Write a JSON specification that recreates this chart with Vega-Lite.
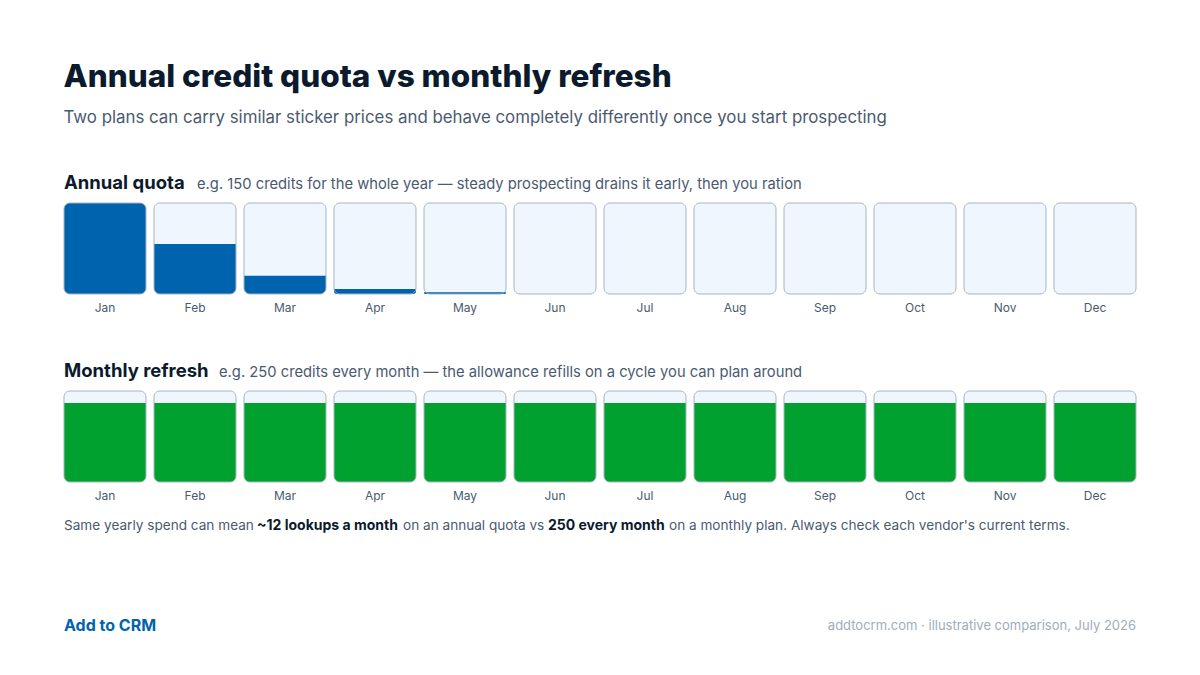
{
  "$schema": "https://vega.github.io/schema/vega-lite/v6.json",
  "background": "white",
  "padding": {"left": 63, "top": 61, "right": 65, "bottom": 20},
  "autosize": {"type": "pad"},
  "title": {
    "text": "Annual credit quota vs monthly refresh",
    "subtitle": "Two plans can carry similar sticker prices and behave completely differently once you start prospecting",
    "anchor": "start",
    "font": "Inter",
    "fontSize": 31.5,
    "fontWeight": 800,
    "color": "#0b1a2c",
    "subtitleFont": "Inter",
    "subtitleFontSize": 16.85,
    "subtitleColor": "#4a5a70",
    "subtitlePadding": 17,
    "offset": 47
  },
  "config": {
    "font": "Inter",
    "view": {"stroke": null},
    "axisX": {"domain": false, "ticks": false, "labelPadding": 8, "labelFontSize": 12, "labelColor": "#4a5a70", "labelFont": "Inter", "labelAngle": 0, "grid": false}
  },
  "datasets": {
    "annual": [
      {"month": "Jan", "level": 1.0},
      {"month": "Feb", "level": 0.55},
      {"month": "Mar", "level": 0.2},
      {"month": "Apr", "level": 0.054},
      {"month": "May", "level": 0.02},
      {"month": "Jun", "level": 0},
      {"month": "Jul", "level": 0},
      {"month": "Aug", "level": 0},
      {"month": "Sep", "level": 0},
      {"month": "Oct", "level": 0},
      {"month": "Nov", "level": 0},
      {"month": "Dec", "level": 0}
    ],
    "monthly": [
      {"month": "Jan", "level": 0.868},
      {"month": "Feb", "level": 0.868},
      {"month": "Mar", "level": 0.868},
      {"month": "Apr", "level": 0.868},
      {"month": "May", "level": 0.868},
      {"month": "Jun", "level": 0.868},
      {"month": "Jul", "level": 0.868},
      {"month": "Aug", "level": 0.868},
      {"month": "Sep", "level": 0.868},
      {"month": "Oct", "level": 0.868},
      {"month": "Nov", "level": 0.868},
      {"month": "Dec", "level": 0.868}
    ]
  },
  "spacing": 49,
  "vconcat": [
    {
      "width": 1072,
      "height": 91,
      "data": {"name": "annual"},
      "layer": [
        {
          "mark": {"type": "bar", "fill": "#eff6fd", "cornerRadius": 6},
          "encoding": {
            "x": {"field": "month", "type": "ordinal", "sort": null, "title": null, "scale": {"paddingInner": 0.0889, "paddingOuter": 0}},
            "y": {"datum": 1, "type": "quantitative", "scale": {"domain": [0, 1]}, "axis": null},
            "y2": {"datum": 0}
          }
        },
        {
          "transform": [{"filter": "datum.level > 0 && datum.level < 1"}],
          "mark": {"type": "bar", "fill": "#0063ad", "cornerRadiusBottomLeft": 6, "cornerRadiusBottomRight": 6},
          "encoding": {
            "x": {"field": "month", "type": "ordinal", "sort": null, "title": null},
            "y": {"field": "level", "type": "quantitative"},
            "y2": {"datum": 0}
          }
        },
        {
          "transform": [{"filter": "datum.level >= 1"}],
          "mark": {"type": "bar", "fill": "#0063ad", "cornerRadius": 6},
          "encoding": {
            "x": {"field": "month", "type": "ordinal", "sort": null, "title": null},
            "y": {"field": "level", "type": "quantitative"},
            "y2": {"datum": 0}
          }
        },
        {
          "mark": {"type": "bar", "fill": "transparent", "stroke": "#a6b3c1", "strokeWidth": 1, "cornerRadius": 6},
          "encoding": {
            "x": {"field": "month", "type": "ordinal", "sort": null, "title": null},
            "y": {"datum": 1, "type": "quantitative"},
            "y2": {"datum": 0}
          }
        },
        {
          "data": {"values": [{"t": "Annual quota"}]},
          "mark": {"type": "text", "align": "left", "baseline": "alphabetic", "fontSize": 18.5, "fontWeight": 700, "color": "#0b1a2c", "x": 0, "y": -14},
          "encoding": {"text": {"field": "t"}}
        },
        {
          "data": {"values": [{"t": "e.g. 150 credits for the whole year — steady prospecting drains it early, then you ration"}]},
          "mark": {"type": "text", "align": "left", "baseline": "alphabetic", "fontSize": 14.75, "color": "#4a5a70", "x": 133, "y": -14},
          "encoding": {"text": {"field": "t"}}
        }
      ]
    },
    {
      "width": 1072,
      "height": 91,
      "data": {"name": "monthly"},
      "layer": [
        {
          "mark": {"type": "bar", "fill": "#eff6fd", "cornerRadius": 6},
          "encoding": {
            "x": {"field": "month", "type": "ordinal", "sort": null, "title": null, "scale": {"paddingInner": 0.0889, "paddingOuter": 0}},
            "y": {"datum": 1, "type": "quantitative", "scale": {"domain": [0, 1]}, "axis": null},
            "y2": {"datum": 0}
          }
        },
        {
          "transform": [{"filter": "datum.level > 0 && datum.level < 1"}],
          "mark": {"type": "bar", "fill": "#00a12e", "cornerRadiusBottomLeft": 6, "cornerRadiusBottomRight": 6},
          "encoding": {
            "x": {"field": "month", "type": "ordinal", "sort": null, "title": null},
            "y": {"field": "level", "type": "quantitative"},
            "y2": {"datum": 0}
          }
        },
        {
          "mark": {"type": "bar", "fill": "transparent", "stroke": "#a6b3c1", "strokeWidth": 1, "cornerRadius": 6},
          "encoding": {
            "x": {"field": "month", "type": "ordinal", "sort": null, "title": null},
            "y": {"datum": 1, "type": "quantitative"},
            "y2": {"datum": 0}
          }
        },
        {
          "data": {"values": [{"t": "Monthly refresh"}]},
          "mark": {"type": "text", "align": "left", "baseline": "alphabetic", "fontSize": 18.5, "fontWeight": 700, "color": "#0b1a2c", "x": 0, "y": -14},
          "encoding": {"text": {"field": "t"}}
        },
        {
          "data": {"values": [{"t": "e.g. 250 credits every month — the allowance refills on a cycle you can plan around"}]},
          "mark": {"type": "text", "align": "left", "baseline": "alphabetic", "fontSize": 14.75, "color": "#4a5a70", "x": 155, "y": -14},
          "encoding": {"text": {"field": "t"}}
        },
        {
          "data": {"values": [
            {"t": "Same yearly spend can mean", "pos": 0, "w": "normal", "c": "#4a5a70"},
            {"t": "~12 lookups a month", "pos": 193, "w": "bold", "c": "#0b1a2c"},
            {"t": "on an annual quota vs", "pos": 339, "w": "normal", "c": "#4a5a70"},
            {"t": "250 every month", "pos": 484, "w": "bold", "c": "#0b1a2c"},
            {"t": "on a monthly plan. Always check each vendor's current terms.", "pos": 605, "w": "normal", "c": "#4a5a70"}
          ]},
          "layer": [
            {"transform": [{"filter": "datum.w == 'normal'"}],
             "mark": {"type": "text", "align": "left", "baseline": "alphabetic", "fontSize": 13.6, "y": 139},
             "encoding": {"text": {"field": "t"}, "x": {"field": "pos", "type": "quantitative", "scale": null}, "color": {"field": "c", "type": "nominal", "scale": null}}},
            {"transform": [{"filter": "datum.w == 'bold'"}],
             "mark": {"type": "text", "align": "left", "baseline": "alphabetic", "fontSize": 14, "fontWeight": 700, "y": 139},
             "encoding": {"text": {"field": "t"}, "x": {"field": "pos", "type": "quantitative", "scale": null}, "color": {"field": "c", "type": "nominal", "scale": null}}}
          ]
        },
        {
          "data": {"values": [{"t": "Add to CRM"}]},
          "mark": {"type": "text", "align": "left", "baseline": "alphabetic", "fontSize": 16, "fontWeight": 700, "color": "#0063ad", "x": 0, "y": 240},
          "encoding": {"text": {"field": "t"}}
        },
        {
          "data": {"values": [{"t": "addtocrm.com · illustrative comparison, July 2026"}]},
          "mark": {"type": "text", "align": "right", "baseline": "alphabetic", "fontSize": 13, "color": "#a0adba", "x": 1072, "y": 239},
          "encoding": {"text": {"field": "t"}}
        }
      ]
    }
  ]
}
